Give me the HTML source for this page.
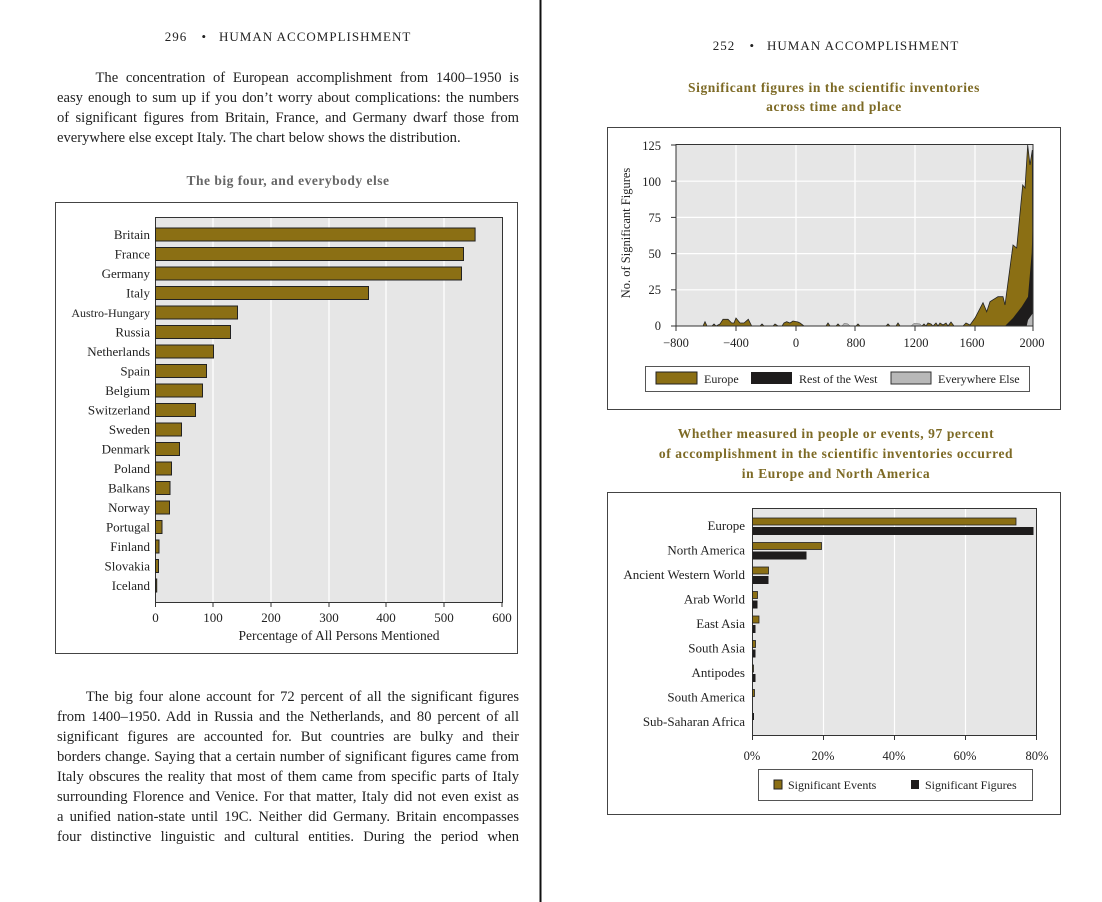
<!DOCTYPE html>
<html><head><meta charset="utf-8"><style>
html,body{margin:0;padding:0;background:#fff;}
body{width:1102px;height:902px;position:relative;overflow:hidden;font-family:"Liberation Serif",serif;color:#222;}
.p{position:absolute;font-size:14.6px;line-height:20px;text-align:justify;text-align-last:auto;}
.p span{display:block;text-align:justify;text-align-last:justify;height:20px;}
.p span.l{text-align-last:left;}
svg{position:absolute;left:0;top:0;}
</style></head><body>
<div class="p" style="left:57px;top:68px;width:462px;">
<span>&nbsp;&nbsp;&nbsp;&nbsp;&nbsp;The concentration of European accomplishment from 1400–1950 is</span>
<span>easy enough to sum up if you don’t worry about complications: the numbers</span>
<span>of significant figures from Britain, France, and Germany dwarf those from</span>
<span class="l">everywhere else except Italy. The chart below shows the distribution.</span>
</div>
<div class="p" style="left:57px;top:687px;width:462px;">
<span>&nbsp;&nbsp;&nbsp;&nbsp;&nbsp;The big four alone account for 72 percent of all the significant figures</span>
<span>from 1400–1950. Add in Russia and the Netherlands, and 80 percent of all</span>
<span>significant figures are accounted for. But countries are bulky and their</span>
<span>borders change. Saying that a certain number of significant figures came from</span>
<span>Italy obscures the reality that most of them came from specific parts of Italy</span>
<span>surrounding Florence and Venice. For that matter, Italy did not even exist as</span>
<span>a unified nation-state until 19C. Neither did Germany. Britain encompasses</span>
<span>four distinctive linguistic and cultural entities. During the period when</span>
</div>
<svg width="1102" height="902" viewBox="0 0 1102 902" font-family="Liberation Serif, serif">
<line x1="540.5" y1="0" x2="540.5" y2="902" stroke="#111" stroke-width="2"/>
<text x="288" y="41" text-anchor="middle" font-size="13" letter-spacing="1" fill="#222">296  <tspan dx="10">•</tspan><tspan dx="12">HUMAN ACCOMPLISHMENT</tspan></text>
<text x="836" y="50" text-anchor="middle" font-size="13" letter-spacing="1" fill="#222">252  <tspan dx="10">•</tspan><tspan dx="12">HUMAN ACCOMPLISHMENT</tspan></text>
<text x="288" y="185" text-anchor="middle" font-size="13.5" font-weight="bold" fill="#666" letter-spacing="0.5">The big four, and everybody else</text>
<g font-size="13.5" font-weight="bold" fill="#7d6a25" text-anchor="middle" letter-spacing="0.6">
<text x="834" y="92">Significant figures in the scientific inventories</text>
<text x="834" y="111">across time and place</text>
<text x="836" y="438">Whether measured in people or events, 97 percent</text>
<text x="836" y="458">of accomplishment in the scientific inventories occurred</text>
<text x="836" y="478">in Europe and North America</text>
</g>

<!-- LEFT CHART -->
<rect x="55.5" y="202.5" width="462" height="451" fill="#fff" stroke="#444"/>
<rect x="155.5" y="217.5" width="347" height="385" fill="#e6e6e6" stroke="#333"/>
<g stroke="#fff" stroke-width="1.3">
<line x1="213" y1="218" x2="213" y2="602"/><line x1="271" y1="218" x2="271" y2="602"/>
<line x1="329" y1="218" x2="329" y2="602"/><line x1="386" y1="218" x2="386" y2="602"/>
<line x1="444" y1="218" x2="444" y2="602"/>
</g>
<g fill="#8b6f14" stroke="#222" stroke-width="1">
<rect x="155.5" y="228" width="319.6" height="13"/>
<rect x="155.5" y="247.5" width="308" height="13"/>
<rect x="155.5" y="267" width="306" height="13"/>
<rect x="155.5" y="286.5" width="213" height="13"/>
<rect x="155.5" y="306" width="82" height="13"/>
<rect x="155.5" y="325.5" width="75" height="13"/>
<rect x="155.5" y="345" width="58" height="13"/>
<rect x="155.5" y="364.5" width="51" height="13"/>
<rect x="155.5" y="384" width="47" height="13"/>
<rect x="155.5" y="403.5" width="40" height="13"/>
<rect x="155.5" y="423" width="26" height="13"/>
<rect x="155.5" y="442.5" width="24" height="13"/>
<rect x="155.5" y="462" width="16" height="13"/>
<rect x="155.5" y="481.5" width="14.5" height="13"/>
<rect x="155.5" y="501" width="14" height="13"/>
<rect x="155.5" y="520.5" width="6.5" height="13"/>
<rect x="155.5" y="540" width="3.5" height="13"/>
<rect x="155.5" y="559.5" width="3" height="13"/>
<rect x="155.5" y="579" width="1.2" height="13"/>
</g>
<g font-size="13" fill="#222" text-anchor="end">
<text x="150" y="239">Britain</text><text x="150" y="258.5">France</text><text x="150" y="278">Germany</text>
<text x="150" y="297.5">Italy</text><text x="150" y="317" font-size="12">Austro-Hungary</text><text x="150" y="336.5">Russia</text>
<text x="150" y="356">Netherlands</text><text x="150" y="375.5">Spain</text><text x="150" y="395">Belgium</text>
<text x="150" y="414.5">Switzerland</text><text x="150" y="434">Sweden</text><text x="150" y="453.5">Denmark</text>
<text x="150" y="473">Poland</text><text x="150" y="492.5">Balkans</text><text x="150" y="512">Norway</text>
<text x="150" y="531.5">Portugal</text><text x="150" y="551">Finland</text><text x="150" y="570.5">Slovakia</text>
<text x="150" y="590">Iceland</text>
</g>
<g stroke="#333"><line x1="155.5" y1="602" x2="155.5" y2="607"/><line x1="213" y1="602" x2="213" y2="607"/><line x1="271" y1="602" x2="271" y2="607"/><line x1="329" y1="602" x2="329" y2="607"/><line x1="386" y1="602" x2="386" y2="607"/><line x1="444" y1="602" x2="444" y2="607"/><line x1="502" y1="602" x2="502" y2="607"/></g>
<g font-size="13" fill="#222" text-anchor="middle">
<text x="155.5" y="622">0</text><text x="213" y="622">100</text><text x="271" y="622">200</text><text x="329" y="622">300</text><text x="386" y="622">400</text><text x="444" y="622">500</text><text x="502" y="622">600</text>
<text x="339" y="640" font-size="13.5">Percentage of All Persons Mentioned</text>
</g>

<!-- RIGHT TOP CHART -->
<rect x="607.5" y="127.5" width="453" height="282" fill="#fff" stroke="#444"/>
<rect x="676" y="144.5" width="357" height="181.5" fill="#e6e6e6"/>
<g stroke="#fff" stroke-width="1.2">
<line x1="736" y1="145" x2="736" y2="326"/><line x1="796" y1="145" x2="796" y2="326"/><line x1="855" y1="145" x2="855" y2="326"/>
<line x1="915" y1="145" x2="915" y2="326"/><line x1="975" y1="145" x2="975" y2="326"/>
<line x1="676" y1="289.8" x2="1033" y2="289.8"/><line x1="676" y1="253.6" x2="1033" y2="253.6"/><line x1="676" y1="217.4" x2="1033" y2="217.4"/><line x1="676" y1="181.2" x2="1033" y2="181.2"/>
</g>
<path d="M676,326 L703,326 L705,321.7 L707,326 L712,326 L714,324 L716,326 L720,324 L723,319.3 L728,319.3 L731.7,323 L734,323 L736,318 L740,323 L744,323 L748.3,319.3 L751.7,326 L760,326 L762,324 L764,326 L773,326 L775,324 L778,326 L782,326 L784,323 L786.7,321.7 L790,323 L793,321 L798,322 L800,323 L804,326 L826,326 L828,323 L830,326 L836,326 L838,324 L840,326 L856,326 L858,324 L860,326 L886,326 L888,324 L890,326 L896,326 L898,323 L900,326 L922,326 L924,324 L926,326 L928,323 L931,324 L933,326 L936,323 L938,326 L940,323 L943,325 L946,323 L948,326 L951,322 L954,326 L963,326 L966,323 L970,325 L975,318 L983,302.7 L986.7,311.7 L990,301.7 L998,296.7 L1003,296.7 L1005,305 L1013,245 L1016.7,248 L1022.7,185 L1025,188 L1027.7,145 L1030,165 L1032.3,150 L1033,326 Z" fill="#8b6f14" stroke="#222" stroke-width="0.8"/>
<path d="M1005,326 L1013,318 L1021.7,306.7 L1028,296.7 L1031.7,253 L1033,215 L1033,326 Z" fill="#1e1c1c"/>
<path d="M1026.7,326 L1028,320 L1033,313 L1033,326 Z" fill="#b8b8b8"/>
<path d="M842,326 L844,323.5 L848,324 L850,326 Z M911,326 L914,323.5 L920,324 L922,326 Z" fill="#b8b8b8" stroke="#555" stroke-width="0.5"/>
<path d="M676,144.5 L676,326 L1033,326 L1033,144.5 Z" fill="none" stroke="#333"/>
<g stroke="#333"><line x1="671" y1="145" x2="676" y2="145"/><line x1="671" y1="181.2" x2="676" y2="181.2"/><line x1="671" y1="217.4" x2="676" y2="217.4"/><line x1="671" y1="253.6" x2="676" y2="253.6"/><line x1="671" y1="289.8" x2="676" y2="289.8"/><line x1="671" y1="326" x2="676" y2="326"/>
<line x1="676" y1="326" x2="676" y2="331"/><line x1="736" y1="326" x2="736" y2="331"/><line x1="796" y1="326" x2="796" y2="331"/><line x1="855" y1="326" x2="855" y2="331"/><line x1="915" y1="326" x2="915" y2="331"/><line x1="975" y1="326" x2="975" y2="331"/><line x1="1033" y1="326" x2="1033" y2="331"/></g>
<g font-size="12.5" fill="#222" text-anchor="end">
<text x="661" y="150">125</text><text x="661" y="186">100</text><text x="661" y="222">75</text><text x="661" y="258">50</text><text x="661" y="294">25</text><text x="661" y="330">0</text>
</g>
<g font-size="12.5" fill="#222" text-anchor="middle">
<text x="676" y="347">−800</text><text x="736" y="347">−400</text><text x="796" y="347">0</text><text x="856" y="347">800</text><text x="916" y="347">1200</text><text x="972" y="347">1600</text><text x="1032" y="347">2000</text>
</g>
<text transform="translate(630,233) rotate(-90)" text-anchor="middle" font-size="12.5" fill="#222">No. of Significant Figures</text>
<rect x="645.5" y="366.5" width="384" height="25" fill="#fff" stroke="#555"/>
<rect x="656" y="372" width="41" height="12" fill="#8b6f14" stroke="#222"/>
<text x="704" y="383" font-size="12" fill="#222">Europe</text>
<rect x="751" y="372" width="41" height="12" fill="#1e1c1c"/>
<text x="799" y="383" font-size="12" fill="#222">Rest of the West</text>
<rect x="891" y="372" width="40" height="12" fill="#b8b8b8" stroke="#333"/>
<text x="938" y="383" font-size="12" fill="#222">Everywhere Else</text>

<!-- RIGHT BOTTOM CHART -->
<rect x="607.5" y="492.5" width="453" height="322" fill="#fff" stroke="#444"/>
<rect x="752.5" y="508.5" width="284" height="227" fill="#e6e6e6" stroke="#333"/>
<g stroke="#fff" stroke-width="1.2"><line x1="823.5" y1="509" x2="823.5" y2="735"/><line x1="894.5" y1="509" x2="894.5" y2="735"/><line x1="965.5" y1="509" x2="965.5" y2="735"/></g>
<g fill="#8b6f14" stroke="#222" stroke-width="0.8">
<rect x="752.5" y="518" width="263.5" height="7"/>
<rect x="752.5" y="542.5" width="69" height="7"/>
<rect x="752.5" y="567" width="16" height="7"/>
<rect x="752.5" y="591.5" width="5" height="7"/>
<rect x="752.5" y="616" width="6.5" height="7"/>
<rect x="752.5" y="640.5" width="3" height="7"/>
<rect x="752.5" y="665" width="1" height="7"/>
<rect x="752.5" y="689.5" width="2" height="7"/>
</g>
<g fill="#1e1c1c">
<rect x="752.5" y="527" width="281" height="8"/>
<rect x="752.5" y="551.5" width="54" height="8"/>
<rect x="752.5" y="576" width="16" height="8"/>
<rect x="752.5" y="600.5" width="5" height="8"/>
<rect x="752.5" y="625" width="3" height="8"/>
<rect x="752.5" y="649.5" width="3" height="8"/>
<rect x="752.5" y="674" width="3" height="8"/>
<rect x="752.5" y="713" width="1.5" height="7"/>
</g>
<g font-size="13" fill="#222" text-anchor="end">
<text x="745" y="530">Europe</text><text x="745" y="554.5">North America</text><text x="745" y="579">Ancient Western World</text>
<text x="745" y="603.5">Arab World</text><text x="745" y="628">East Asia</text><text x="745" y="652.5">South Asia</text>
<text x="745" y="677">Antipodes</text><text x="745" y="701.5">South America</text><text x="745" y="726">Sub-Saharan Africa</text>
</g>
<g stroke="#333"><line x1="752.5" y1="735" x2="752.5" y2="740"/><line x1="823.5" y1="735" x2="823.5" y2="740"/><line x1="894.5" y1="735" x2="894.5" y2="740"/><line x1="965.5" y1="735" x2="965.5" y2="740"/><line x1="1036.5" y1="735" x2="1036.5" y2="740"/></g>
<g font-size="12.5" fill="#222" text-anchor="middle">
<text x="752" y="760">0%</text><text x="823" y="760">20%</text><text x="894" y="760">40%</text><text x="965" y="760">60%</text><text x="1037" y="760">80%</text>
</g>
<rect x="758.5" y="769.5" width="274" height="31" fill="#fff" stroke="#555"/>
<rect x="774" y="780" width="8" height="9" fill="#8b6f14" stroke="#222"/>
<text x="788" y="789" font-size="12" fill="#222">Significant Events</text>
<rect x="911" y="780" width="8" height="9" fill="#1e1c1c"/>
<text x="925" y="789" font-size="12" fill="#222">Significant Figures</text>
</svg>
</body></html>
